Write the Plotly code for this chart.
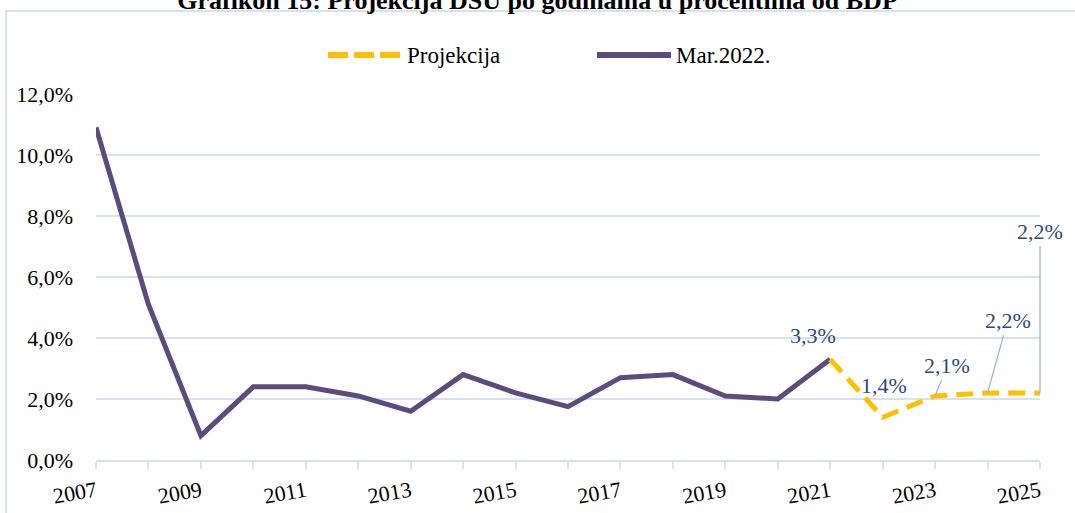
import plotly.graph_objects as go

years_hist = list(range(2007, 2022))
values_hist = [10.9, 5.1, 0.8, 2.4, 2.4, 2.1, 1.6, 2.8, 2.2, 1.75, 2.7, 2.8, 2.1, 2.0, 3.3]
years_proj = [2021, 2022, 2023, 2024, 2025]
values_proj = [3.3, 1.4, 2.1, 2.2, 2.2]
name_hist = "Mar.2022."
name_proj = "Projekcija"
title_text = "Grafikon 15: Projekcija DSU po godinama u procentima od BDP"
y_ticks = [0, 2, 4, 6, 8, 10, 12]
x_ticks = list(range(2007, 2026, 2))

PURPLE = "#5E4B7E"
YELLOW = "#FFC000"
GRID = "#D6E2F2"
LABEL = "#2E4A7A"
LEADER = "#8FB3E0"
FONT = "Liberation Serif"
FS = 22

W, H = 1075, 513
ML, MR, MT, MB = 96, 35, 94, 53
PW, PH = W - ML - MR, H - MT - MB

def px(x):
    return (x - ML) / PW

def py(y):
    return (H - MB - y) / PH

def fmt(v):
    return f"{v:.1f}".replace(".", ",") + "%"

fig = go.Figure()
fig.add_trace(go.Scatter(
    x=years_hist, y=values_hist, mode="lines", name=name_hist,
    line=dict(color=PURPLE, width=5), hoverinfo="skip", showlegend=False))
fig.add_trace(go.Scatter(
    x=years_proj, y=values_proj, mode="lines", name=name_proj,
    line=dict(color=YELLOW, width=5, dash="17px,9px"), hoverinfo="skip", showlegend=False))

label_specs = [
    (0, -17, 24, False),
    (1, 1, 32, False),
    (2, 12, -30, True),
    (3, 20, -72, True),
    (4, 0, -161, True),
]
for i, dx, dy, leader in label_specs:
    x, y = years_proj[i], values_proj[i]
    if leader:
        fig.add_annotation(x=x, y=y, text=fmt(y), showarrow=True, arrowhead=0,
                           arrowwidth=1.2, arrowcolor=LEADER, ax=dx, ay=dy,
                           font=dict(family=FONT, size=FS, color=LABEL))
    else:
        fig.add_annotation(x=x, y=y, text=fmt(y), showarrow=False,
                           xshift=dx, yshift=dy,
                           font=dict(family=FONT, size=FS, color=LABEL))

# chart area border
fig.add_shape(type="rect", xref="paper", yref="paper",
              x0=px(6), x1=px(1090), y0=py(530), y1=py(11),
              line=dict(color=GRID, width=2), layer="below")

# legend (drawn manually to match the long sample lines)
fig.add_shape(type="line", xref="paper", yref="paper",
              x0=px(328), x1=px(400), y0=py(55), y1=py(55),
              line=dict(color=YELLOW, width=6, dash="20px,6px"))
fig.add_annotation(xref="paper", yref="paper", x=px(405), y=py(55), text=name_proj,
                   showarrow=False, xanchor="left", yanchor="middle",
                   font=dict(family=FONT, size=23, color="black"))
fig.add_shape(type="line", xref="paper", yref="paper",
              x0=px(597), x1=px(671), y0=py(55), y1=py(55),
              line=dict(color=PURPLE, width=6))
fig.add_annotation(xref="paper", yref="paper", x=px(674), y=py(55), text=name_hist,
                   showarrow=False, xanchor="left", yanchor="middle",
                   font=dict(family=FONT, size=23, color="black"))

fig.update_layout(
    width=W, height=H,
    margin=dict(l=ML, r=MR, t=MT, b=MB),
    paper_bgcolor="white", plot_bgcolor="white",
    font=dict(family=FONT, size=FS, color="black"),
    title=dict(text=f"<b>{title_text}</b>", x=0.5, xanchor="center",
               y=1.0, yanchor="middle", yref="container", pad=dict(t=0, b=0),
               font=dict(family=FONT, size=26, color="black"), automargin=False),
    showlegend=False,
    xaxis=dict(range=[2007, 2025], tickmode="array", tickvals=x_ticks,
               ticktext=[str(t) for t in x_ticks], showgrid=False,
               showline=True, linecolor=GRID, linewidth=2,
               ticks="outside", ticklen=7, tickcolor=GRID, tickwidth=2,
               tickangle=-10, ticklabelstandoff=1, automargin=False,
               minor=dict(dtick=1, tick0=2007, ticks="outside", ticklen=7, tickcolor=GRID, tickwidth=2, showgrid=False),
               zeroline=False, fixedrange=True),
    yaxis=dict(range=[0, 12], tickmode="array", tickvals=y_ticks,
               ticktext=[fmt(v) for v in y_ticks], automargin=False,
               showgrid=True, gridcolor=GRID, gridwidth=1.5, zeroline=False,
               showline=False, ticks="", ticklabelstandoff=22, fixedrange=True),
)

fig.write_html("out.html", config={"displayModeBar": False},
               post_script="document.body.style.margin='0';document.body.style.overflow='hidden';")
